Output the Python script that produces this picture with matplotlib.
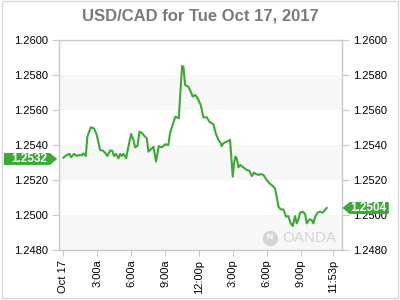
import matplotlib
matplotlib.use("Agg")
import matplotlib.pyplot as plt
import matplotlib.transforms as mtransforms
from matplotlib.patches import Polygon, Rectangle

plt.rcParams['font.family'] = ['Liberation Sans', 'DejaVu Sans']

# hours since midnight, Oct 17 2017
hours = [0.00, 0.30, 0.53, 0.68, 0.94, 1.18, 1.42, 1.62, 1.77, 1.98,
         2.12, 2.42, 2.71, 2.95, 3.25, 3.48, 3.69, 3.89, 4.13, 4.31,
         4.48, 4.66, 4.87, 5.02, 5.16, 5.31, 5.55, 5.75, 5.99, 6.20,
         6.34, 6.55, 6.73, 6.93, 7.17, 7.38, 7.52, 7.73, 7.97, 8.20,
         8.32, 8.44, 8.64, 8.79, 9.00, 9.29, 9.44, 9.68, 9.91, 10.21,
         10.50, 10.62, 10.77, 11.06, 11.21, 11.45, 11.65, 11.80, 11.95, 12.15,
         12.39, 12.69, 12.92, 13.28, 13.48, 13.72, 13.92, 14.01, 14.16, 14.46,
         14.75, 14.90, 14.99, 15.10, 15.22, 15.34, 15.49, 15.64, 15.93, 16.23,
         16.46, 16.67, 16.87, 17.05, 17.26, 17.46, 17.70, 17.99, 18.23, 18.44,
         18.73, 18.88, 19.03, 19.23, 19.47, 19.71, 19.91, 20.12, 20.30, 20.50,
         20.65, 20.80, 20.95, 21.18, 21.39, 21.54, 21.77, 21.98, 22.13, 22.27,
         22.48, 22.72, 22.95, 23.16, 23.31]
rates = [1.25328, 1.25343, 1.25349, 1.25330, 1.25349, 1.25337, 1.25343, 1.25341, 1.25352, 1.25337,
         1.25448, 1.25501, 1.25495, 1.25457, 1.25371, 1.25368, 1.25356, 1.25337, 1.25368, 1.25368,
         1.25337, 1.25349, 1.25324, 1.25349, 1.25337, 1.25349, 1.25324, 1.25390, 1.25463, 1.25429,
         1.25387, 1.25394, 1.25476, 1.25470, 1.25451, 1.25438, 1.25362, 1.25375, 1.25390, 1.25305,
         1.25349, 1.25394, 1.25387, 1.25390, 1.25404, 1.25400, 1.25467, 1.25518, 1.25562, 1.25552,
         1.25851, 1.25848, 1.25743, 1.25733, 1.25714, 1.25676, 1.25686, 1.25676, 1.25657, 1.25629,
         1.25558, 1.25558, 1.25533, 1.25518, 1.25467, 1.25429, 1.25410, 1.25394, 1.25410, 1.25419,
         1.25429, 1.25295, 1.25219, 1.25295, 1.25333, 1.25324, 1.25272, 1.25286, 1.25272, 1.25257,
         1.25253, 1.25223, 1.25242, 1.25234, 1.25229, 1.25234, 1.25229, 1.25200, 1.25181, 1.25171,
         1.25152, 1.25105, 1.25048, 1.25032, 1.25032, 1.24990, 1.24994, 1.24952, 1.24937, 1.24994,
         1.24952, 1.24975, 1.25013, 1.25019, 1.25006, 1.24952, 1.24975, 1.24971, 1.24952, 1.24987,
         1.25013, 1.25019, 1.25013, 1.25029, 1.25040]

x_ticks = [0, 3, 6, 9, 12, 15, 18, 21, 23 + 53 / 60]
x_labels = ["Oct 17", "3:00a", "6:00a", "9:00a", "12:00p", "3:00p", "6:00p", "9:00p", "11:53p"]
y_ticks = [1.2480, 1.2500, 1.2520, 1.2540, 1.2560, 1.2580, 1.2600]
open_rate = 1.2532
last_rate = 1.2504

GREEN = "#3aaa35"
EDGE = "#c8c8c8"
WATER = "#d4d4d4"

fig = plt.figure(figsize=(4, 3), dpi=100)
fig.patches.append(Rectangle((0.004, 0.006), 0.992, 0.99, transform=fig.transFigure,
                             fill=False, edgecolor="#d8d8d8", linewidth=1))
ax = fig.add_axes([0.147, 0.1667, 0.708, 0.70])

# alternating bands
for lo in [1.2480, 1.2520, 1.2560]:
    ax.axhspan(lo, lo + 0.002, color="#f7f7f7", zorder=0, lw=0)

ax.plot(hours, rates, color=GREEN, linewidth=1.5, zorder=3)

ax.set_xlim(-0.41, 24.66)
ax.set_ylim(1.2480, 1.2600)
ax.set_xticks(x_ticks)
ax.set_xticklabels(x_labels, rotation=90, fontsize=8)
ax.set_yticks(y_ticks)
ax.set_yticklabels([f"{v:.4f}" for v in y_ticks], fontsize=8)
ax.tick_params(axis="y", which="both", left=True, right=True,
               labelleft=True, labelright=True, color=EDGE, length=5, pad=3)
ax.tick_params(axis="x", color=EDGE, length=4, pad=3)
for s in ax.spines.values():
    s.set_color(EDGE)
    s.set_linewidth(1)

fig.text(0.5, 0.948, "USD/CAD for Tue Oct 17, 2017", ha="center", va="center",
         fontsize=12, fontweight="bold", color="#7a7a7a")

# OANDA watermark
ax.text(0.98, 0.058, "OANDA", transform=ax.transAxes, ha="right", va="center",
        fontsize=11, color=WATER, zorder=2)
ax.plot([0.745], [0.058], transform=ax.transAxes, marker="o", markersize=10,
        color=WATER, zorder=2, clip_on=False)
ax.text(0.745, 0.058, "N", transform=ax.transAxes, ha="center", va="center",
        fontsize=6, fontweight="bold", color="white", zorder=2)

# price flags
trans = mtransforms.blended_transform_factory(fig.transFigure, ax.transData)
h = 0.00034
left_flag = Polygon([(0.01, open_rate - h), (0.125, open_rate - h), (0.143, open_rate),
                     (0.125, open_rate + h), (0.01, open_rate + h)],
                    closed=True, transform=trans, facecolor=GREEN, edgecolor="none",
                    clip_on=False)
fig.patches.append(left_flag)
fig.text(0.072, open_rate, f"{open_rate:.4f}", transform=trans, ha="center", va="center",
         fontsize=8.5, fontweight="bold", color="white")

right_flag = Polygon([(0.856, last_rate), (0.874, last_rate - h), (0.972, last_rate - h),
                      (0.972, last_rate + h), (0.874, last_rate + h)],
                     closed=True, transform=trans, facecolor=GREEN, edgecolor="none",
                     clip_on=False)
fig.patches.append(right_flag)
fig.text(0.922, last_rate, f"{last_rate:.4f}", transform=trans, ha="center", va="center",
         fontsize=8.5, fontweight="bold", color="white")

fig.savefig("out.png", dpi=100)
